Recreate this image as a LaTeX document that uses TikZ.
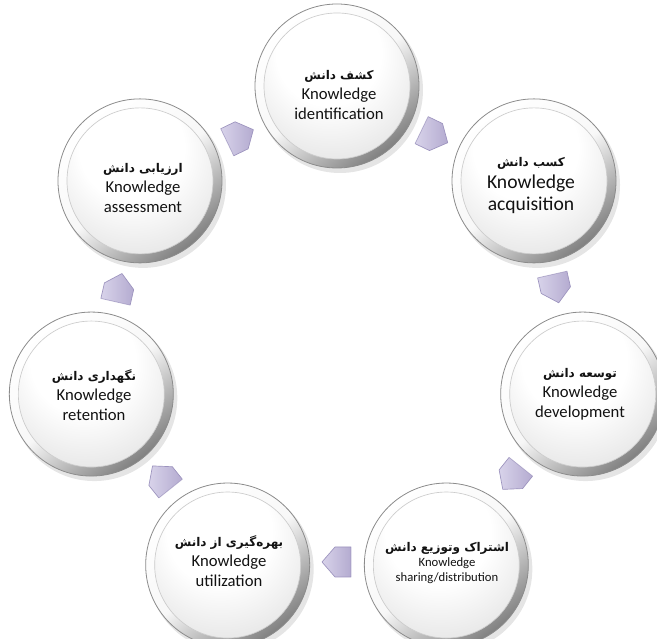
\documentclass[tikz,border=0pt]{standalone}
\usepackage{fontspec}
\setmainfont{Carlito}
\newfontfamily\fa[Script=Arabic]{DejaVu Sans}
\TeXXeTstate=1
\usetikzlibrary{calc}
\definecolor{arrA}{HTML}{D8D3EA}
\definecolor{arrB}{HTML}{B4ABD0}
\definecolor{arrE}{HTML}{9C93BE}
\definecolor{txt}{HTML}{121212}
\pgfdeclareradialshading{discshade}{\pgfpoint{-4bp}{16bp}}{color(0bp)=(white); color(18bp)=(white); color(45bp)=(black!16); color(62bp)=(black!28)}
\tikzset{
  ktext/.style={align=center, text=txt, inner sep=0pt},
  rimshade/.style={top color=white, bottom color=black!50, middle color=black!3, shading angle=38},
  arrbody/.style={left color=arrA, right color=arrB, shading angle=90},
}
\newcommand\kbubble[1]{%
  \fill[black, opacity=0.10] ($(#1)+(3,-4)$) circle (83);
  \shade[rimshade] (#1) circle (82);
  \draw[black!45, line width=0.6pt] (#1) circle (82);
  \shade[shading=discshade] (#1) circle (73);
  \draw[black!20, line width=0.5pt] (#1) circle (73);
}
\newcommand\karrow[1]{%
  \begin{scope}[shift={($(O)+(#1:224)$)}, rotate=#1-90]
    \shade[arrbody] (-14,-15) -- (2,-15) -- (15,0) -- (2,15) -- (-14,15) -- cycle;
    \draw[arrE, line width=0.5pt, line join=round] (-14,-15) -- (2,-15) -- (15,0) -- (2,15) -- (-14,15) -- cycle;
    \fill[white, opacity=0.35] (-14,15) -- (-17,19) -- (-17,-19) -- (-14,-15) -- cycle;
  \end{scope}
}
\begin{document}
\begin{tikzpicture}[x=0.75pt, y=0.75pt]
\useasboundingbox (0,0) rectangle (657,639);
\clip (0,0) rectangle (657,639);
\fill[white] (0,0) rectangle (657,639);
\coordinate (O) at (337,301);
\foreach \k in {1,...,7} {
  \pgfmathsetmacro\ang{90-51.4286*(\k-1)}
  \coordinate (c\k) at ($(O)+(\ang:252)$);
}
\foreach \k in {1,...,7} { \kbubble{c\k} }
\foreach \k in {0,...,6} {
  \pgfmathsetmacro\ph{64.2857-51.4286*\k}
  \karrow{\ph}
}
\node[ktext, font=\fontsize{12.5}{15}\selectfont] (t1) at (339,544)
  {{\fa\bfseries\fontsize{9}{15}\selectfont\beginR کشف دانش\endR}\\Knowledge\\identification};
\node[ktext, font=\fontsize{14.7}{16.5}\selectfont] (t2) at (531,453)
  {{\fa\bfseries\fontsize{9}{16.5}\selectfont\beginR کسب دانش\endR}\\Knowledge\\acquisition};
\node[ktext, font=\fontsize{12.5}{15}\selectfont] (t3) at (580,245)
  {{\fa\bfseries\fontsize{9}{15}\selectfont\beginR توسعه دانش\endR}\\Knowledge\\development};
\node[ktext, font=\fontsize{9.5}{11.6}\selectfont] (t4) at (447,76)
  {{\fa\bfseries\fontsize{9}{13}\selectfont\beginR اشتراک وتوزیع دانش\endR}\\Knowledge\\sharing/distribution};
\node[ktext, font=\fontsize{12.5}{15}\selectfont] (t5) at (229,78)
  {{\fa\bfseries\fontsize{9}{15}\selectfont\beginR بهره‌گیری از دانش\endR}\\Knowledge\\utilization};
\node[ktext, font=\fontsize{12.5}{15}\selectfont] (t6) at (94,244)
  {{\fa\bfseries\fontsize{9}{15}\selectfont\beginR نگهداری دانش\endR}\\Knowledge\\retention};
\node[ktext, font=\fontsize{12.5}{15}\selectfont] (t7) at (143,451)
  {{\fa\bfseries\fontsize{9}{15}\selectfont\beginR ارزیابی دانش\endR}\\Knowledge\\assessment};
\end{tikzpicture}
\end{document}
